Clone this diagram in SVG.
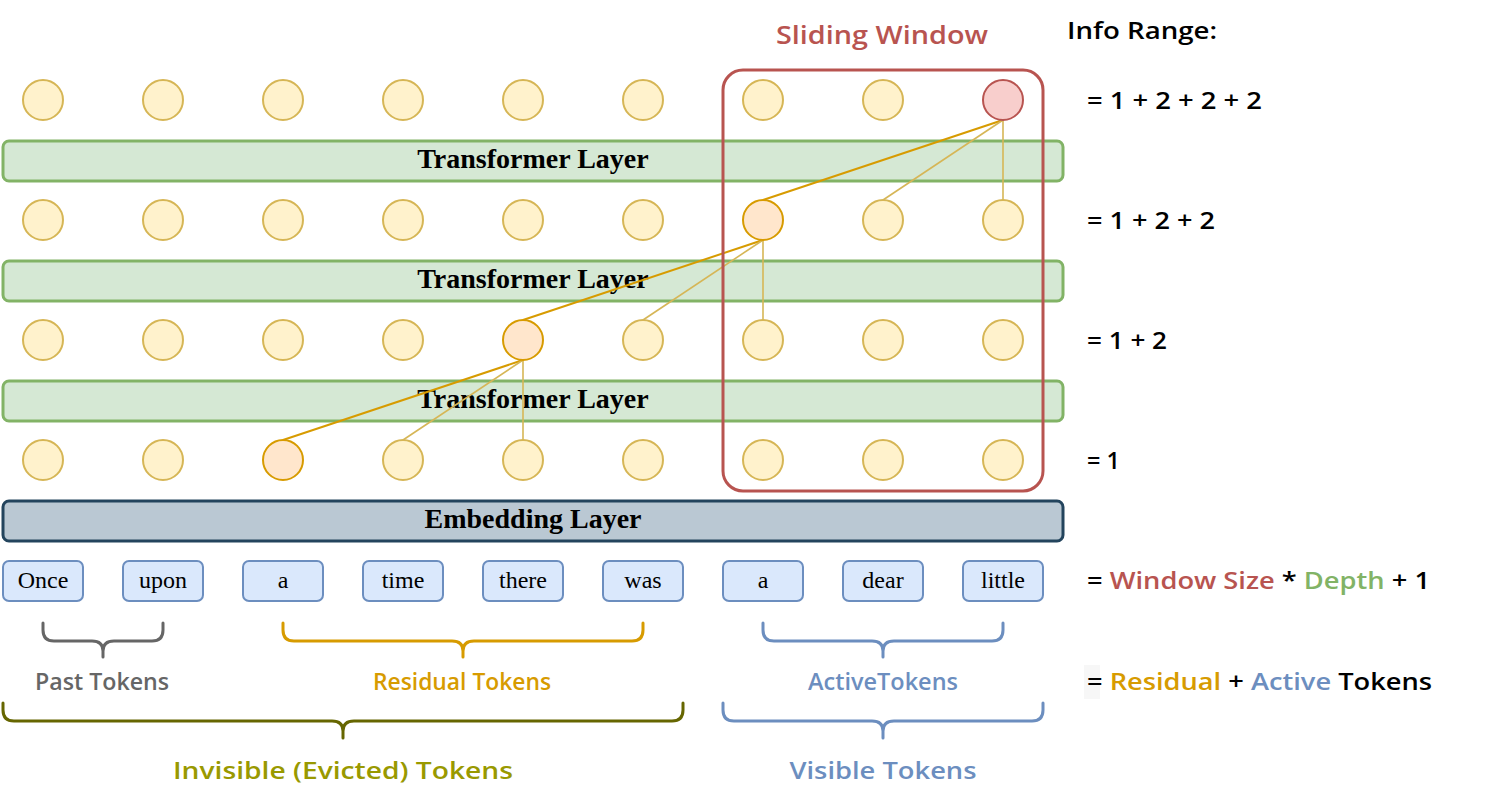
<svg xmlns="http://www.w3.org/2000/svg" width="1504" height="800" viewBox="0 0 1504 800">
<style>
.hand{font-family:"Open Sans","Noto Sans","DejaVu Sans",sans-serif;font-weight:600;}
.node{fill:#fff2cc;stroke:#d6b656;stroke-width:2;}
.hot{fill:#ffe6cc;stroke:#d79b00;stroke-width:2;}
.top{fill:#f8cecc;stroke:#b85450;stroke-width:2;}
.layer{fill:#d5e8d4;stroke:#82b366;stroke-width:3;}
.emb{fill:#bac8d3;stroke:#23445d;stroke-width:3;}
.lt{font-family:"Liberation Serif","Times New Roman",serif;font-weight:bold;font-size:28px;fill:#000;text-anchor:middle;}
.tok{fill:#dae8fc;stroke:#6c8ebf;stroke-width:2;}
.tt{font-family:"Liberation Serif","Times New Roman",serif;font-size:24px;fill:#000;text-anchor:middle;}
.main{stroke:#d79b00;stroke-width:2;fill:none;}
.side{stroke:#d6b656;stroke-width:1.6;fill:none;}
.brace{fill:none;stroke-width:3;stroke-linecap:round;stroke-linejoin:round;}
.eq{font-size:24px;fill:#000;}
.lbl{font-size:23px;text-anchor:middle;}
</style>
<rect width="1504" height="800" fill="#ffffff"/>

<g id="layers">
  <g id="layer3"><rect class="layer" x="3" y="141" width="1060" height="40" rx="6"/><text class="lt" x="533" y="168">Transformer Layer</text></g>
  <g id="layer2"><rect class="layer" x="3" y="261" width="1060" height="40" rx="6"/><text class="lt" x="533" y="288">Transformer Layer</text></g>
  <g id="layer1"><rect class="layer" x="3" y="381" width="1060" height="40" rx="6"/><text class="lt" x="533" y="408">Transformer Layer</text></g>
  <g id="embedding"><rect class="emb" x="3" y="501" width="1060" height="40" rx="6"/><text class="lt" x="533" y="528">Embedding Layer</text></g>
</g>

<g id="connectors">
  <line class="main" x1="1003" y1="120" x2="763" y2="200"/>
  <line class="side" x1="1003" y1="120" x2="883" y2="200"/>
  <line class="side" x1="1003" y1="120" x2="1003" y2="200"/>
  <line class="main" x1="763" y1="240" x2="523" y2="320"/>
  <line class="side" x1="763" y1="240" x2="643" y2="320"/>
  <line class="side" x1="763" y1="240" x2="763" y2="320"/>
  <line class="main" x1="523" y1="360" x2="283" y2="440"/>
  <line class="side" x1="523" y1="360" x2="403" y2="440"/>
  <line class="side" x1="523" y1="360" x2="523" y2="440"/>
</g>

<g id="row4">
  <circle class="node" cx="43" cy="100" r="20"/><circle class="node" cx="163" cy="100" r="20"/><circle class="node" cx="283" cy="100" r="20"/>
  <circle class="node" cx="403" cy="100" r="20"/><circle class="node" cx="523" cy="100" r="20"/><circle class="node" cx="643" cy="100" r="20"/>
  <circle class="node" cx="763" cy="100" r="20"/><circle class="node" cx="883" cy="100" r="20"/><circle class="top" cx="1003" cy="100" r="20"/>
</g>
<g id="row3">
  <circle class="node" cx="43" cy="220" r="20"/><circle class="node" cx="163" cy="220" r="20"/><circle class="node" cx="283" cy="220" r="20"/>
  <circle class="node" cx="403" cy="220" r="20"/><circle class="node" cx="523" cy="220" r="20"/><circle class="node" cx="643" cy="220" r="20"/>
  <circle class="hot" cx="763" cy="220" r="20"/><circle class="node" cx="883" cy="220" r="20"/><circle class="node" cx="1003" cy="220" r="20"/>
</g>
<g id="row2">
  <circle class="node" cx="43" cy="340" r="20"/><circle class="node" cx="163" cy="340" r="20"/><circle class="node" cx="283" cy="340" r="20"/>
  <circle class="node" cx="403" cy="340" r="20"/><circle class="hot" cx="523" cy="340" r="20"/><circle class="node" cx="643" cy="340" r="20"/>
  <circle class="node" cx="763" cy="340" r="20"/><circle class="node" cx="883" cy="340" r="20"/><circle class="node" cx="1003" cy="340" r="20"/>
</g>
<g id="row1">
  <circle class="node" cx="43" cy="460" r="20"/><circle class="node" cx="163" cy="460" r="20"/><circle class="hot" cx="283" cy="460" r="20"/>
  <circle class="node" cx="403" cy="460" r="20"/><circle class="node" cx="523" cy="460" r="20"/><circle class="node" cx="643" cy="460" r="20"/>
  <circle class="node" cx="763" cy="460" r="20"/><circle class="node" cx="883" cy="460" r="20"/><circle class="node" cx="1003" cy="460" r="20"/>
</g>

<g id="sliding-window">
  <rect x="723" y="70" width="320" height="421" rx="20" fill="none" stroke="#b85450" stroke-width="3"/>
  <text class="hand" x="882" y="44" font-size="25" fill="#b85450" text-anchor="middle" textLength="212" lengthAdjust="spacingAndGlyphs">Sliding Window</text>
</g>

<g id="tokens">
  <g id="t-once"><rect class="tok" x="3" y="561" width="80" height="40" rx="6"/><text class="tt" x="43" y="588">Once</text></g>
  <g id="t-upon"><rect class="tok" x="123" y="561" width="80" height="40" rx="6"/><text class="tt" x="163" y="588">upon</text></g>
  <g id="t-a1"><rect class="tok" x="243" y="561" width="80" height="40" rx="6"/><text class="tt" x="283" y="588">a</text></g>
  <g id="t-time"><rect class="tok" x="363" y="561" width="80" height="40" rx="6"/><text class="tt" x="403" y="588">time</text></g>
  <g id="t-there"><rect class="tok" x="483" y="561" width="80" height="40" rx="6"/><text class="tt" x="523" y="588">there</text></g>
  <g id="t-was"><rect class="tok" x="603" y="561" width="80" height="40" rx="6"/><text class="tt" x="643" y="588">was</text></g>
  <g id="t-a2"><rect class="tok" x="723" y="561" width="80" height="40" rx="6"/><text class="tt" x="763" y="588">a</text></g>
  <g id="t-dear"><rect class="tok" x="843" y="561" width="80" height="40" rx="6"/><text class="tt" x="883" y="588">dear</text></g>
  <g id="t-little"><rect class="tok" x="963" y="561" width="80" height="40" rx="6"/><text class="tt" x="1003" y="588">little</text></g>
</g>

<g id="braces">
  <g id="past">
    <path class="brace" stroke="#666666" d="M43 623 V630 Q43 641 54 641 H92 Q103 641 103 651 V657 M103 651 Q103 641 114 641 H152 Q163 641 163 630 V623"/>
    <text class="hand lbl" x="102" y="690" fill="#666666" textLength="134" lengthAdjust="spacingAndGlyphs">Past Tokens</text>
  </g>
  <g id="residual">
    <path class="brace" stroke="#d79b00" d="M283 623 V630 Q283 641 294 641 H452 Q463 641 463 651 V657 M463 651 Q463 641 474 641 H632 Q643 641 643 630 V623"/>
    <text class="hand lbl" x="462" y="690" fill="#d79b00" textLength="178" lengthAdjust="spacingAndGlyphs">Residual Tokens</text>
  </g>
  <g id="active">
    <path class="brace" stroke="#6c8ebf" d="M763 623 V630 Q763 641 774 641 H872 Q883 641 883 651 V657 M883 651 Q883 641 894 641 H992 Q1003 641 1003 630 V623"/>
    <text class="hand lbl" x="883" y="690" fill="#6c8ebf" textLength="150" lengthAdjust="spacingAndGlyphs">ActiveTokens</text>
  </g>
  <g id="invisible">
    <path class="brace" stroke="#666600" d="M3 703 V710 Q3 721 14 721 H332 Q343 721 343 731 V738 M343 731 Q343 721 354 721 H672 Q683 721 683 710 V703"/>
    <text class="hand lbl" x="343" y="779" fill="#999900" font-size="25" textLength="340" lengthAdjust="spacingAndGlyphs">Invisible (Evicted) Tokens</text>
  </g>
  <g id="visible">
    <path class="brace" stroke="#6c8ebf" d="M723 703 V710 Q723 721 734 721 H872 Q883 721 883 731 V738 M883 731 Q883 721 894 721 H1032 Q1043 721 1043 710 V703"/>
    <text class="hand lbl" x="883" y="779" fill="#6c8ebf" font-size="25" textLength="187" lengthAdjust="spacingAndGlyphs">Visible Tokens</text>
  </g>
</g>

<g id="info-range">
  <text class="hand eq" x="1067" y="39" textLength="150" lengthAdjust="spacingAndGlyphs">Info Range:</text>
  <text class="hand eq" x="1087" y="109" textLength="175" lengthAdjust="spacingAndGlyphs">= 1 + 2 + 2 + 2</text>
  <text class="hand eq" x="1087" y="229" textLength="128" lengthAdjust="spacingAndGlyphs">= 1 + 2 + 2</text>
  <text class="hand eq" x="1087" y="349" textLength="80" lengthAdjust="spacingAndGlyphs">= 1 + 2</text>
  <text class="hand eq" x="1087" y="469" textLength="33" lengthAdjust="spacingAndGlyphs">= 1</text>
  <text class="hand eq" x="1087" y="589" textLength="343" lengthAdjust="spacingAndGlyphs">= <tspan fill="#b85450">Window Size</tspan> * <tspan fill="#82b366">Depth</tspan> + 1</text>
  <rect x="1084" y="665" width="16" height="34" fill="#f7f7f7"/>
  <text class="hand eq" x="1087" y="690" textLength="345" lengthAdjust="spacingAndGlyphs">= <tspan fill="#d79b00">Residual</tspan> + <tspan fill="#6c8ebf">Active</tspan> Tokens</text>
</g>
</svg>
